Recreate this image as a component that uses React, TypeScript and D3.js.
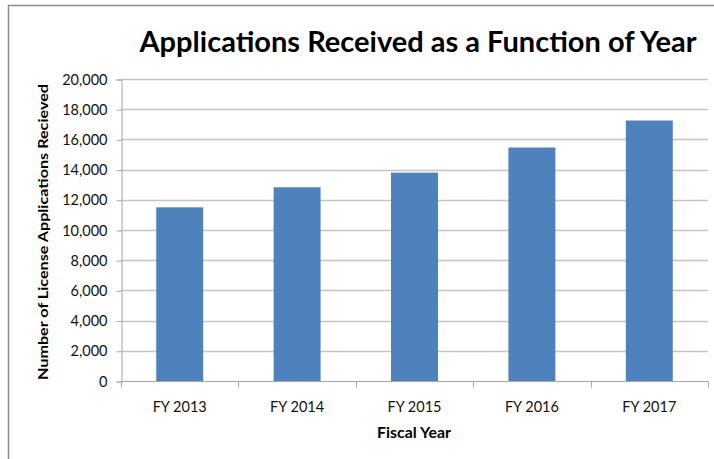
import React, { useEffect, useRef } from 'react';
import * as d3 from 'd3';

const categories = ['FY 2013', 'FY 2014', 'FY 2015', 'FY 2016', 'FY 2017'];
const applications = [11500, 12830, 13800, 15460, 17250];
const yTicks = [0, 2000, 4000, 6000, 8000, 10000, 12000, 14000, 16000, 18000, 20000];

const W = 714;
const H = 459;
const FONT = 'Lato, "Open Sans", sans-serif';

export default function App() {
  const ref = useRef<SVGSVGElement>(null);

  useEffect(() => {
    const svg = d3.select(ref.current);
    svg.selectAll('*').remove();

    const left = 121, right = 708, top = 79, bottom = 381;

    // outer chart frame (right/bottom run off the picture)
    svg.append('rect')
      .attr('x', 8.5).attr('y', 5.5)
      .attr('width', 720).attr('height', 480)
      .attr('fill', '#fff')
      .attr('stroke', '#8c8c8c')
      .attr('stroke-width', 1.5);

    const x = d3.scaleBand().domain(categories).range([left, right])
      .paddingInner(0.6).paddingOuter(0.3);
    const y = d3.scaleLinear().domain([0, 20000]).range([bottom, top]);

    // gridlines
    svg.append('g')
      .selectAll('line')
      .data(yTicks.filter((d) => d > 0))
      .enter()
      .append('line')
      .attr('x1', left).attr('x2', right)
      .attr('y1', (d) => Math.round(y(d)) + 0.5)
      .attr('y2', (d) => Math.round(y(d)) + 0.5)
      .attr('stroke', '#c4c4c4')
      .attr('stroke-width', 1.3);

    // bars
    svg.append('g')
      .selectAll('rect')
      .data(applications)
      .enter()
      .append('rect')
      .attr('x', (_, i) => x(categories[i])!)
      .attr('y', (d) => y(d))
      .attr('width', x.bandwidth())
      .attr('height', (d) => bottom - y(d))
      .attr('fill', '#4f81bd');

    // y axis
    const yAxis = svg.append('g')
      .attr('transform', `translate(${left + 0.5},0.5)`)
      .call(d3.axisLeft(y).tickValues(yTicks).tickSize(5).tickPadding(9)
        .tickFormat((d) => d3.format(',')(d as number)));
    yAxis.select('.domain').attr('stroke', '#a6a6a6');
    yAxis.selectAll('.tick line').attr('stroke', '#a6a6a6');
    yAxis.selectAll('text')
      .attr('font-family', FONT).attr('font-size', 14.5).attr('fill', '#111');

    // x axis
    const xAxis = svg.append('g')
      .attr('transform', `translate(0,${bottom + 0.5})`);
    xAxis.append('line')
      .attr('x1', left).attr('x2', right)
      .attr('stroke', '#a6a6a6');
    const bounds = d3.range(categories.length + 1).map((i) => left + i * x.step());
    xAxis.selectAll('line.tk')
      .data(bounds)
      .enter()
      .append('line')
      .attr('class', 'tk')
      .attr('x1', (d) => Math.round(d) + 0.5).attr('x2', (d) => Math.round(d) + 0.5)
      .attr('y1', 0).attr('y2', 6)
      .attr('stroke', '#a6a6a6');
    xAxis.selectAll('text')
      .data(categories)
      .enter()
      .append('text')
      .attr('x', (d) => x(d)! + x.bandwidth() / 2)
      .attr('y', 30)
      .attr('text-anchor', 'middle')
      .attr('font-family', FONT).attr('font-size', 14.5).attr('fill', '#111')
      .text((d) => d);

    // titles
    svg.append('text')
      .attr('x', 418).attr('y', 52)
      .attr('text-anchor', 'middle')
      .attr('font-family', FONT).attr('font-weight', 'bold').attr('font-size', 29)
      .attr('textLength', 557).attr('lengthAdjust', 'spacingAndGlyphs')
      .attr('fill', '#000')
      .text('Applications Received as a Function of Year');

    svg.append('text')
      .attr('x', 414).attr('y', 438)
      .attr('text-anchor', 'middle')
      .attr('font-family', FONT).attr('font-weight', 'bold').attr('font-size', 15)
      .attr('textLength', 74).attr('lengthAdjust', 'spacingAndGlyphs')
      .attr('fill', '#000')
      .text('Fiscal Year');

    svg.append('text')
      .attr('transform', `translate(48,232) rotate(-90)`)
      .attr('text-anchor', 'middle')
      .attr('font-family', FONT).attr('font-weight', 'bold').attr('font-size', 14)
      .attr('textLength', 296).attr('lengthAdjust', 'spacingAndGlyphs')
      .attr('fill', '#000')
      .text('Number of License Applications Recieved');
  }, []);

  return (
    <svg ref={ref} width={W} height={H}
      style={{ position: 'absolute', left: 0, top: 0, background: '#fff' }} />
  );
}
